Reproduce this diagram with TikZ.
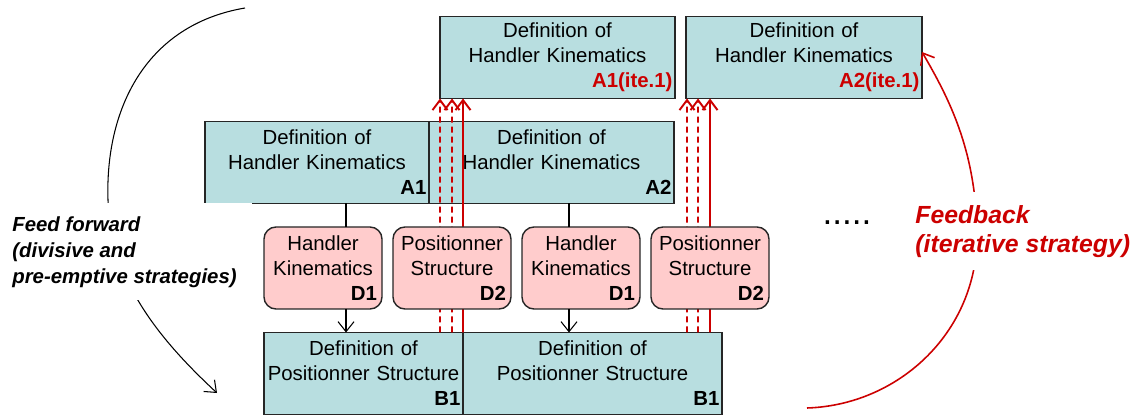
\documentclass[tikz,border=0pt]{standalone}
\usepackage{fontspec}
\setmainfont{Liberation Sans}
\usetikzlibrary{positioning, arrows.meta, calc}
\definecolor{kinblue}{HTML}{B8DEE0}
\definecolor{kinpink}{HTML}{FFCCCC}
\definecolor{fbred}{HTML}{CC0000}
\newcommand{\boxtag}[2]{\\\hspace*{\fill}\textbf{#1}\hspace*{#2}}

\begin{document}
\begin{tikzpicture}[
  node distance=0.22cm,
  every node/.style={font=\fontsize{11.6pt}{14.2pt}\selectfont},
  defbox/.style={rectangle, draw=black!85, fill=kinblue, line width=0.8pt, outer sep=0pt, minimum height=1.64cm, inner xsep=0.05cm, text width=#1, align=center},
  solbox/.style={rectangle, rounded corners=0.24cm, draw=black!85, fill=kinpink, line width=0.8pt, outer sep=0pt, minimum height=1.64cm, inner xsep=0.1cm, text width=2.16cm, align=center},
  link/.style={line width=0.6pt},
  arrow/.style={line width=0.6pt, -{Straight Barb[length=2mm, width=3.2mm]}},
  fbline/.style={fbred, line width=1.1pt, -{Straight Barb[length=2mm, width=3mm]}},
  fbdash/.style={fbline, dash pattern=on 0.12cm off 0.08cm},
  strategy/.style={fill=white, align=left, font=\fontsize{11.6pt}{14.8pt}\selectfont\bfseries\itshape}
]
\useasboundingbox (0,0) rectangle (22.72,-8.38);

% iteration 1
\node[defbox=4.6cm] (A1ite) at (11.15,-1.15) {Definition of\\Handler Kinematics\boxtag{\color{fbred}A1(ite.1)}{0cm}};
\node[defbox=4.62cm, right=of A1ite] (A2ite) {Definition of\\Handler Kinematics\boxtag{\color{fbred}A2(ite.1)}{0.12cm}};

% handler level
\node[defbox=4.38cm] (A1) at (6.34,-3.25) {Definition of\\Handler Kinematics\boxtag{A1}{0.45cm}};
\node[defbox=4.8cm, right=0cm of A1] (A2) {Definition of\\Handler Kinematics\boxtag{A2}{0.6cm}};

% positioner level
\node[defbox=3.88cm] (B1a) at (7.27,-7.47) {Definition of\\Positionner Structure\boxtag{B1}{0.25cm}};
\node[defbox=5.08cm, right=0cm of B1a] (B1b) {Definition of\\Positionner Structure\boxtag{B1}{0.85cm}};

% feedback lines
\draw[fbdash] ([xshift=-0.46cm]B1a.north east) -- (A1ite.south west);
\draw[fbdash] ([xshift=-0.22cm]B1a.north east) -- ([xshift=0.24cm]A1ite.south west);
\draw[fbline] (B1a.north east) -- ([xshift=0.46cm]A1ite.south west);
\draw[fbdash] ([xshift=-0.7cm]B1b.north east) -- ([xshift=0.02cm]A2ite.south west);
\draw[fbdash] ([xshift=-0.48cm]B1b.north east) -- ([xshift=0.24cm]A2ite.south west);
\draw[fbline] ([xshift=-0.24cm]B1b.north east) -- ([xshift=0.48cm]A2ite.south west);

% design variables
\node[solbox] (D1a) at (6.46,-5.36) {Handler\\Kinematics\boxtag{D1}{0cm}};
\node[solbox, right=of D1a] (D2a) {Positionner\\Structure\boxtag{D2}{0.14cm}};
\node[solbox, right=of D2a] (D1b) {Handler\\Kinematics\boxtag{D1}{0.14cm}};
\node[solbox, right=of D1b] (D2b) {Positionner\\Structure\boxtag{D2}{0.12cm}};

% Arrows
\coordinate (k1) at ([xshift=0.46cm]D1a.north);
\coordinate (k2) at ([xshift=-0.24cm]D1b.north);
\draw[link] (k1 |- A1.south) -- (k1);
\draw[arrow] (k1 |- D1a.south) -- (k1 |- B1a.north);
\draw[link] (k2 |- A2.south) -- (k2);
\draw[arrow] (k2 |- D1b.south) -- (k2 |- B1b.north);

% strategies
\coordinate (ffstart) at (4.9,-0.16);
\coordinate (ffend) at (4.34,-7.86);
\coordinate (fbstart) at (16.14,-8.16);
\draw[arrow] (ffstart) .. controls (2.9,-0.5) and (2.1,-2.2) .. (2.16,-4.0)
  .. controls (2.2,-5.6) and (3.2,-6.8) .. (ffend);
\draw[fbred, line width=0.9pt, -{Straight Barb[length=2mm, width=3.2mm]}] (fbstart)
  .. controls (18.0,-8.1) and (19.6,-6.6) .. (19.54,-4.6)
  .. controls (19.5,-3.0) and (19.0,-2.0) .. ([yshift=0.11cm]A2ite.east);

\node[strategy, anchor=north west, inner xsep=0.3cm, inner ysep=0.26cm] (ffwd) at (-0.06,-4.06)
  {Feed forward\\(divisive and\\pre-emptive strategies)};
\node[strategy, text=fbred, anchor=north west, inner xsep=0.1cm, inner ysep=0.26cm,
  font=\fontsize{14.1pt}{16.5pt}\selectfont\bfseries\itshape] (fback) at (18.2,-3.84)
  {Feedback\\(iterative strategy)};
\node[font=\fontsize{20pt}{24pt}\selectfont, anchor=base] (dots) at (16.94,-4.5) {.....};

\end{tikzpicture}
\end{document}
